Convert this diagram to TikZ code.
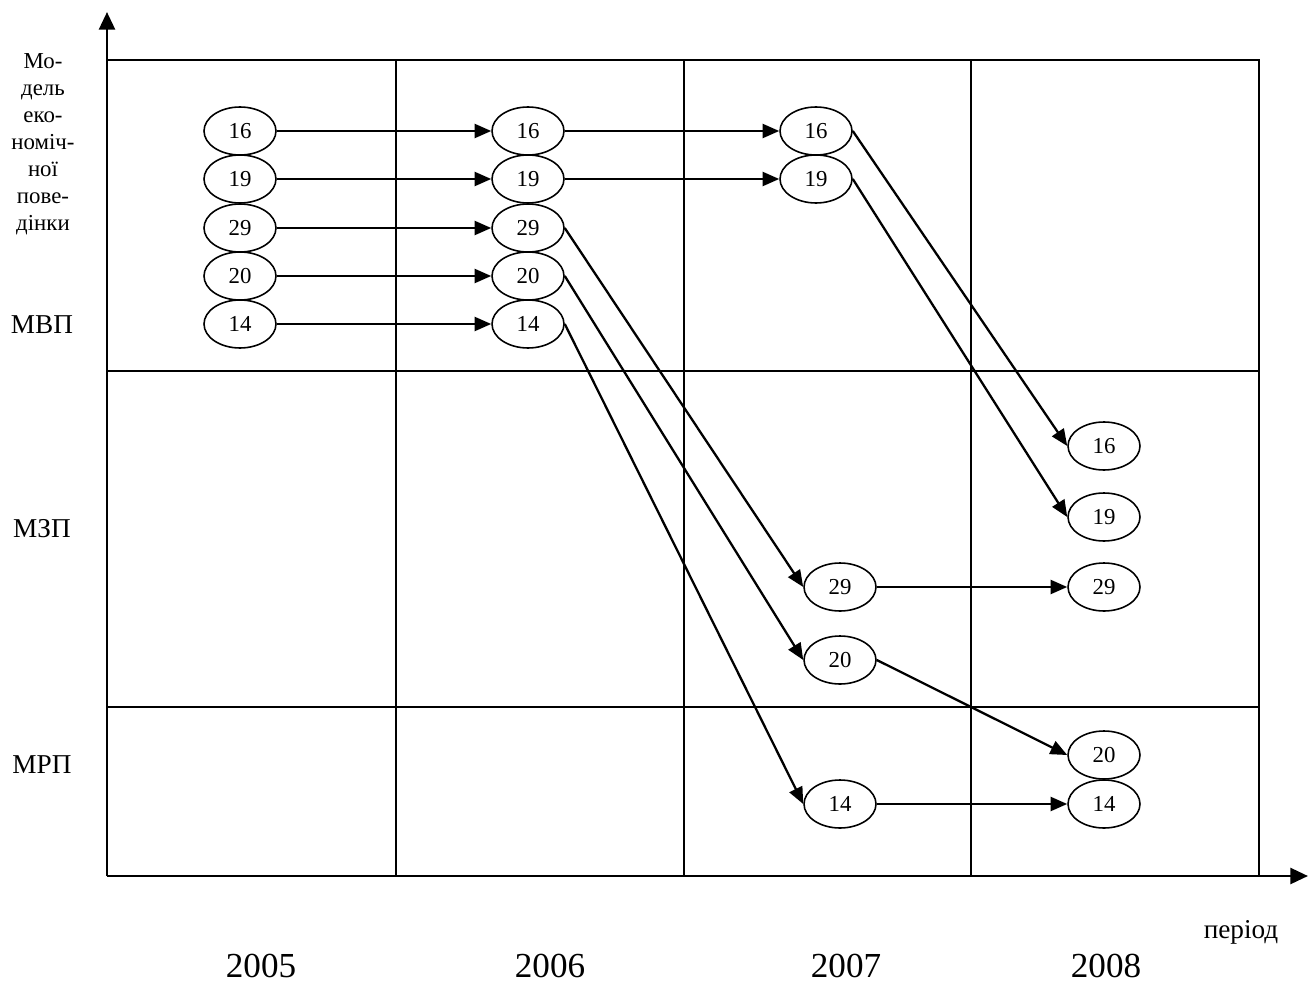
\documentclass[tikz,border=0pt]{standalone}
\usepackage{fontspec}
\setmainfont{Liberation Serif}
\usetikzlibrary{arrows.meta,shapes.geometric}

\tikzset{
  firm/.style = {draw, ellipse, line width = 0.9pt, minimum width = 1.44cm, minimum height = 0.96cm, inner sep = 0pt, font = \fontsize{13}{15}\selectfont},
  move/.style = {draw, line width = 1.3pt, -{Triangle[length = 9.5pt, width = 8pt]}},
  gridline/.style = {draw, line width = 0.9pt},
  axis/.style = {draw, line width = 1.6pt, -{Triangle[length = 10pt, width = 9pt]}},
  year/.style = {anchor = base, font = \fontsize{20}{24}\selectfont},
  model/.style = {anchor = base, font = \fontsize{15.5}{18}\selectfont}
}

\begin{document}
\begin{tikzpicture}[x = 0.02cm, y = -0.02cm]
\path [use as bounding box] (0,0) rectangle (1311,983);

% grid of periods and models
\path [gridline] (107,60) -- (1259,60) -- (1259,876);
\path [gridline] (107,371) -- (1259,371);
\path [gridline] (107,707) -- (1259,707);
\foreach \x in {396,684,971} \path [gridline] (\x,60) -- (\x,876);

% axes
\coordinate (origin) at (107,876);
\coordinate (ytip) at (107,12);
\coordinate (xtip) at (1308,876);
\path [axis] (origin) -- (ytip);
\path [axis] (origin) -- (xtip);

% 2005 -> 2006
\foreach \n/\y in {16/131, 19/179, 29/228, 20/276, 14/324} {
  \node [firm] (a\n) at (240,\y) {\n};
  \node [firm] (b\n) at (528,\y) {\n};
  \path [move] (a\n.east) -- (b\n.west);
}

% 2007
\node [firm] (c16) at (816,131) {16};
\node [firm] (c19) at (816,179) {19};
\node [firm] (c29) at (840,587) {29};
\node [firm] (c20) at (840,660) {20};
\node [firm] (c14) at (840,804) {14};

% 2008
\node [firm] (d16) at (1104,446) {16};
\node [firm] (d19) at (1104,517) {19};
\node [firm] (d29) at (1104,587) {29};
\node [firm] (d20) at (1104,755) {20};
\node [firm] (d14) at (1104,804) {14};

\foreach \n in {16,19,29,20,14} {
  \path [move] (b\n.east) -- (c\n.west);
  \path [move] (c\n.east) -- (d\n.west);
}

% labels
\node [align = center, font = \fontsize{13}{15.4}\selectfont] (title) at (43,144) {Мо-\\дель\\еко-\\номіч-\\ної\\пове-\\дінки};
\node [model] (mvp) at (42,333) {МВП};
\node [model] (mzp) at (42,537) {МЗП};
\node [model] (mrp) at (42,773) {МРП};
\node [anchor = base, font = \fontsize{15.5}{18}\selectfont] (period) at (1241,938) {період};
\foreach \yr/\x in {2005/261, 2006/550, 2007/846, 2008/1106}
  \node [year] (y\yr) at (\x,977) {\yr};
\end{tikzpicture}
\end{document}
